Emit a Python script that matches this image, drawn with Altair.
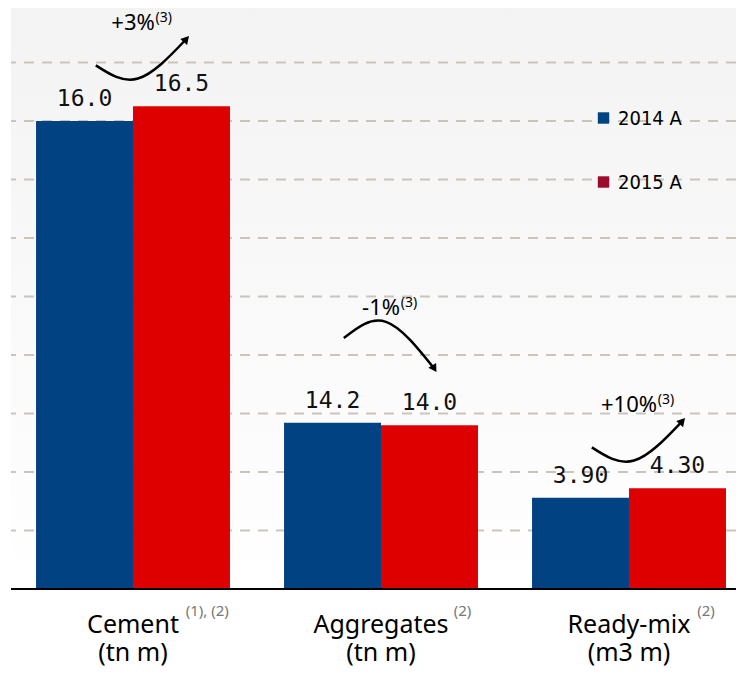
import altair as alt
import pandas as pd

# ---------------- data ----------------
categories = ["Cement", "Aggregates", "Ready-mix"]
units = ["(tn m)", "(tn m)", "(m3 m)"]
footnotes = ["(1), (2)", "(2)", "(2)"]
years = ["2014 A", "2015 A"]
values_2014 = [16.0, 14.2, 3.90]
values_2015 = [16.5, 14.0, 4.30]
decimals = [1, 1, 2]
changes = ["+3%", "-1%", "+10%"]
change_note = "(3)"
# each category is drawn on its own unit scale (different units per panel)
unit_scale = [1.0, 0.40, 0.80]
grid_values = [2, 4, 6, 8, 10, 12, 14, 16, 18]

# ---------------- layout / style ----------------
PX_STEP = 248
W, H = 725, 581
BAR = 0.391
X_DOM = [-0.492, -0.492 + W / PX_STEP]
Y_DOM = [0, 19.86]
PX_PER_X = W / (X_DOM[1] - X_DOM[0])
bar_colors = ["#004282", "#de0000"]
legend_colors = ["#004282", "#9c0a2c"]
FONT = "Noto Sans"

# approximate advance widths (em) of Noto Sans, used to place superscripts
CW = {"C": .63, "e": .56, "m": .93, "n": .61, "t": .36, "A": .64, "g": .56, "r": .41,
      "a": .56, "s": .48, "R": .63, "d": .61, "y": .5, "-": .32, "i": .26, "x": .52,
      "+": .57, "%": .82, "1": .57, "0": .57, "3": .57}


def text_w(s, size):
    return sum(CW.get(ch, .56) for ch in s) * size


xscale = alt.Scale(domain=X_DOM, nice=False, zero=False)
yscale = alt.Scale(domain=Y_DOM, nice=False, zero=True)

rows = []
for i, c in enumerate(categories):
    for j, vals in enumerate([values_2014, values_2015]):
        v = vals[i]
        h = v * unit_scale[i]
        x0 = i - BAR if j == 0 else i
        rows.append(dict(cat=c, year=years[j], value=v, h=h, x0=x0, x1=x0 + BAR,
                         xm=x0 + BAR / 2, label=f"{v:.{decimals[i]}f}"))
bars_df = pd.DataFrame(rows)

CHG_SIZE = 22
arrow_rows, head_rows, chg_rows = [], [], []
for i, c in enumerate(categories):
    h14 = values_2014[i] * unit_scale[i]
    h15 = values_2015[i] * unit_scale[i]
    L = max(h14, h15) + 2.0
    up = values_2015[i] >= values_2014[i]
    if up:
        ys = [L - 0.6, L - 1.05, L + 0.3]
        ang = 42
        ly = L + 0.6
    else:
        ys = [L + 0.9, L + 1.45, L - 0.15]
        ang = 148
        ly = L + 1.7
    xs = [i - 0.15, i + 0.02, i + 0.215]
    for k in range(3):
        arrow_rows.append(dict(cat=c, o=k, x=xs[k], y=ys[k]))
    head_rows.append(dict(cat=c, x=xs[2], y=ys[2], ang=ang))
    half = text_w(changes[i], CHG_SIZE) / 2
    chg_rows.append(dict(cat=c, x=i, y=ly, text=changes[i],
                         xn=i + (half + 1) / PX_PER_X, note=change_note))
arrow_df = pd.DataFrame(arrow_rows)
head_df = pd.DataFrame(head_rows)
chg_df = pd.DataFrame(chg_rows)

CAT_SIZE = 25
cat_df = pd.DataFrame(dict(
    cat=categories, unit=units, note=footnotes, x=list(range(len(categories))),
    xn=[i + (text_w(c, CAT_SIZE) / 2 + 7) / PX_PER_X for i, c in enumerate(categories)],
))

one = pd.DataFrame({"a": [0]})

# ---------------- layers ----------------
bg = alt.Chart(one).mark_rect(
    fill=alt.Gradient(gradient="linear",
                      stops=[alt.GradientStop(color="#f3f3f3", offset=0),
                             alt.GradientStop(color="#ffffff", offset=1)],
                      x1=0, x2=0, y1=0, y2=1)
).encode(x=alt.value(0), x2=alt.value(W), y=alt.value(0), y2=alt.value(H))

grid = alt.Chart(pd.DataFrame({"g": grid_values})).mark_rule(
    color="#cbc4bd", strokeWidth=2, strokeDash=[10, 8]
).encode(y=alt.Y("g:Q", scale=yscale, axis=None))

bars = alt.Chart(bars_df).mark_bar().encode(
    x=alt.X("x0:Q", scale=xscale, axis=None),
    x2="x1:Q",
    y=alt.Y("h:Q", scale=yscale, axis=None),
    y2=alt.datum(0),
    color=alt.Color("year:N", scale=alt.Scale(domain=years, range=bar_colors), legend=None),
)

baseline = alt.Chart(one).mark_rule(color="black", strokeWidth=2).encode(
    y=alt.Y("a:Q", scale=yscale, axis=None)
)

vlabels = alt.Chart(bars_df).mark_text(
    font="DejaVu Sans Mono", fontSize=23, dy=-15, baseline="alphabetic", color="#111"
).encode(x=alt.X("xm:Q", scale=xscale, axis=None),
         y=alt.Y("h:Q", scale=yscale, axis=None), text="label:N")

arrows = alt.Chart(arrow_df).mark_line(
    color="black", strokeWidth=2.5, interpolate="natural"
).encode(x=alt.X("x:Q", scale=xscale, axis=None),
         y=alt.Y("y:Q", scale=yscale, axis=None),
         detail="cat:N", order="o:Q")

heads = alt.Chart(head_df).mark_point(
    shape="triangle-up", filled=True, color="black", size=85, opacity=1
).encode(x=alt.X("x:Q", scale=xscale, axis=None),
         y=alt.Y("y:Q", scale=yscale, axis=None),
         angle=alt.Angle("ang:Q", scale=None))

chg = alt.Chart(chg_df).mark_text(
    font=FONT, fontSize=CHG_SIZE, baseline="alphabetic", color="black"
).encode(x=alt.X("x:Q", scale=xscale, axis=None),
         y=alt.Y("y:Q", scale=yscale, axis=None), text="text:N")

chg_note = alt.Chart(chg_df).mark_text(
    font=FONT, fontSize=14, baseline="alphabetic", align="left", dy=-8, color="black"
).encode(x=alt.X("xn:Q", scale=xscale, axis=None),
         y=alt.Y("y:Q", scale=yscale, axis=None), text="note:N")

cat_lab = alt.Chart(cat_df).mark_text(
    font=FONT, fontSize=CAT_SIZE, baseline="alphabetic", color="black"
).encode(x=alt.X("x:Q", scale=xscale, axis=None), y=alt.value(H + 44), text="cat:N")

unit_lab = alt.Chart(cat_df).mark_text(
    font=FONT, fontSize=CAT_SIZE, baseline="alphabetic", color="black"
).encode(x=alt.X("x:Q", scale=xscale, axis=None), y=alt.value(H + 72), text="unit:N")

note_lab = alt.Chart(cat_df).mark_text(
    font=FONT, fontSize=15, baseline="alphabetic", align="left", color="#777"
).encode(x=alt.X("xn:Q", scale=xscale, axis=None), y=alt.value(H + 27), text="note:N")

legend_layers = []
for k, yr in enumerate(years):
    ldf = pd.DataFrame({"year": [yr]})
    legend_layers.append(
        alt.Chart(ldf).mark_square(size=130, filled=True, color=legend_colors[k], opacity=1)
        .encode(x=alt.value(592.5), y=alt.value(110 + 64 * k))
    )
    legend_layers.append(
        alt.Chart(ldf).mark_text(font="DejaVu Sans Condensed, Liberation Sans Narrow, DejaVu Sans",
                                 fontSize=20, align="left", baseline="middle", color="black")
        .encode(x=alt.value(607), y=alt.value(111 + 64 * k), text="year:N")
    )

chart = alt.layer(
    bg, grid, bars, baseline, vlabels, arrows, heads, chg, chg_note,
    cat_lab, unit_lab, note_lab, *legend_layers
).properties(
    width=W, height=H,
    padding={"left": 3, "top": 0, "right": 0, "bottom": 79},
    autosize="none", background="white",
).configure_view(stroke=None)

chart.save("out.html", embed_options={"renderer": "svg", "actions": False})
